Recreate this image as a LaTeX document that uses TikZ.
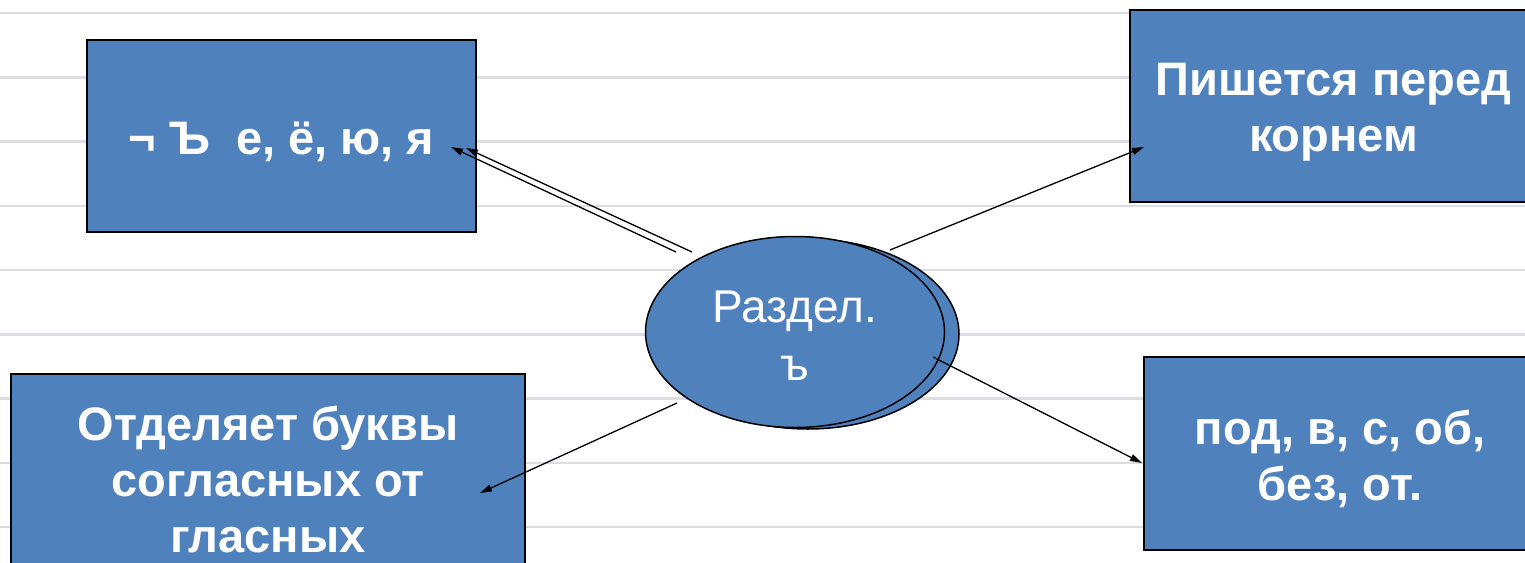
\documentclass[tikz,border=0pt]{standalone}
\usepackage{fontspec}
\setmainfont{Liberation Sans}
\usetikzlibrary{shapes.geometric,arrows.meta,calc}
\definecolor{boxblue}{HTML}{4F81BD}
\definecolor{ruleline}{HTML}{DCDCE4}
\tikzset{
  bluebox/.style={draw=black, line width=2pt, fill=boxblue, text=white, align=center,
    font=\fontsize{47}{56}\selectfont\bfseries, inner sep=0pt},
  blueell/.style={ellipse, draw=black, line width=1.5pt, fill=boxblue, inner sep=0pt},
  conn/.style={line width=1.3pt, -{Triangle[length=12pt,width=7pt]}},
  ruling/.style={ruleline, line width=2.5pt}
}
\begin{document}
\begin{tikzpicture}[x=1pt,y=-1pt]
\useasboundingbox (0,0) rectangle (1525,562);
\clip (0,0) rectangle (1525,562);
\fill[white] (0,0) rectangle (1525,562);
% ruled background
\foreach \i in {0,...,8}{
  \draw[ruling] (0,{13+64.25*\i}) -- (1525,{13+64.25*\i});
}
% boxes
\node[bluebox, minimum width=389, minimum height=192] (b1) at (281.5,136) {\rule{0pt}{45pt}¬ Ъ\ \ е, ё, ю, я};
\node[bluebox, minimum width=407, minimum height=192] (b2) at (1333.5,106) {\rule{0pt}{45pt}Пишется перед\\корнем};
\node[bluebox, minimum width=514, minimum height=210] (b3) at (268,479) {Отделяет буквы\\согласных от\\гласных};
\node[bluebox, minimum width=392, minimum height=193] (b4) at (1340,453.5) {\rule{0pt}{45pt}под, в, с, об,\\без, от.};
% central ellipse with its copy behind
\node[blueell, minimum width=302, minimum height=190] (eback) at (808,334) {};
\node[blueell, minimum width=299, minimum height=191, text=white, align=center,
  font=\fontsize{46}{58}\selectfont] (ell) at (795,332) {\rule{0pt}{39pt}Раздел.\\ъ};
% connector ends
\coordinate (s1a) at ($(ell.center)+(-103,-80)$);
\coordinate (s1b) at ($(ell.center)+(-119,-80)$);
\coordinate (t1a) at ($(b1.center)+(184.5,12)$);
\coordinate (t1b) at ($(b1.center)+(169.5,11)$);
\coordinate (s2) at ($(ell.center)+(95,-82)$);
\coordinate (t2) at ($(b2.west)+(15,41)$);
\coordinate (s3) at ($(ell.center)+(-118,71)$);
\coordinate (t3) at ($(b3.center)+(212,14)$);
\coordinate (s4) at ($(ell.center)+(138,25)$);
\coordinate (t4) at ($(b4.west)+(-1,9.5)$);
% connectors
\draw[conn] (s1a) -- (t1a);
\draw[conn] (s1b) -- (t1b);
\draw[conn] (s2) -- (t2);
\draw[conn] (s3) -- (t3);
\draw[conn] (s4) -- (t4);
\end{tikzpicture}
\end{document}
